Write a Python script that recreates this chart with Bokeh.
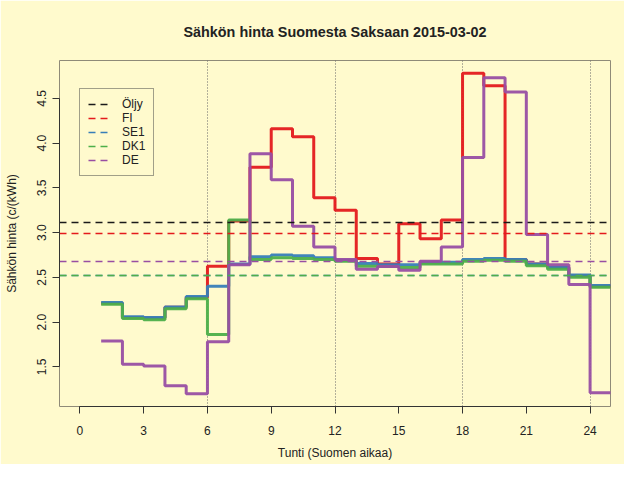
from bokeh.plotting import figure
from bokeh.models import Range1d, FixedTicker
from bokeh.embed import file_html
from bokeh.resources import INLINE

# ---- data ----
hours = list(range(1, 25))
fi  = [2.21, 2.05, 2.045, 2.165, 2.275, 2.625, 3.13, 3.73, 4.16, 4.07, 3.39, 3.25,
       2.71, 2.65, 3.10, 2.93, 3.14, 4.78, 4.64, 2.70, 2.65, 2.61, 2.515, 2.40]
se1 = [2.22, 2.06, 2.05, 2.17, 2.285, 2.40, 2.65, 2.73, 2.75, 2.74, 2.72, 2.69,
       2.655, 2.64, 2.64, 2.67, 2.67, 2.70, 2.71, 2.70, 2.65, 2.61, 2.525, 2.41]
dk1 = [2.20, 2.04, 2.025, 2.15, 2.26, 1.86, 3.14, 2.70, 2.72, 2.71, 2.70, 2.68,
       2.625, 2.62, 2.61, 2.65, 2.65, 2.68, 2.69, 2.68, 2.63, 2.59, 2.50, 2.39]
de  = [1.79, 1.53, 1.51, 1.29, 1.20, 1.78, 2.64, 3.88, 3.59, 3.07, 2.84, 2.70,
       2.59, 2.62, 2.58, 2.68, 2.84, 3.84, 4.73, 4.57, 2.98, 2.64, 2.42, 1.21]

legend_names = ["Öljy", "FI", "SE1", "DK1", "DE"]
mean_values = [3.11, 2.99, 2.52, 2.52, 2.68]

x_ticks = [0, 3, 6, 9, 12, 15, 18, 21, 24]
grid_hours = [6, 12, 18, 24]
y_ticks = [1.5, 2.0, 2.5, 3.0, 3.5, 4.0, 4.5]

title = "Sähkön hinta Suomesta Saksaan 2015-03-02"
x_title = "Tunti (Suomen aikaa)"
y_title = "Sähkön hinta (c/(kWh)"

# ---- styles ----
BG = "#FFFACD"
colors = ["#1a1a1a", "#E41A1C", "#377EB8", "#4DAF4A", "#984EA3"]
FONT = "Liberation Sans"
DARK = "#333333"

# R-like ranges: 4 % extension
xlo, xhi = 0, 24
xpad = 0.04 * (xhi - xlo)
allv = fi + se1 + dk1 + de
ylo, yhi = min(allv), max(allv)
ypad = 0.04 * (yhi - ylo)

p = figure(width=624, height=464, output_backend="svg", toolbar_location=None,
           x_range=Range1d(xlo - xpad, xhi + xpad),
           y_range=Range1d(ylo - ypad, yhi + ypad),
           min_border_left=59, min_border_right=14,
           min_border_top=59, min_border_bottom=58,
           background_fill_color=BG, border_fill_color=BG)

p.title.text = title
p.title.align = "center"
p.title.vertical_align = "bottom"
p.title.text_font = FONT
p.title.text_font_size = "14.4px"
p.title.text_font_style = "bold"
p.title.text_color = "#222222"
p.title.standoff = 42

p.outline_line_color = "#8f8a78"
p.outline_line_width = 1

# axes
for ax in (p.xaxis, p.yaxis):
    ax.axis_line_color = DARK
    ax.major_tick_line_color = DARK
    ax.minor_tick_line_color = None
    ax.major_tick_out = 7
    ax.major_tick_in = 0
    ax.major_label_text_font = FONT
    ax.major_label_text_font_size = "12px"
    ax.major_label_text_color = "#222222"
    ax.axis_label_text_font = FONT
    ax.axis_label_text_font_size = "12px"
    ax.axis_label_text_font_style = "normal"
    ax.axis_label_text_color = "#222222"

p.xaxis.ticker = FixedTicker(ticks=x_ticks)
p.xaxis.bounds = (x_ticks[0], x_ticks[-1])
p.xaxis.axis_label = x_title
p.xaxis.major_label_standoff = 12
p.xaxis.axis_label_standoff = 8

p.yaxis.ticker = FixedTicker(ticks=y_ticks)
p.yaxis.bounds = (y_ticks[0], y_ticks[-1])
p.yaxis.major_label_overrides = {t: f"{t:.1f}" for t in y_ticks}
p.yaxis.major_label_orientation = "vertical"
p.yaxis.axis_label = y_title
p.yaxis.major_label_standoff = 6
p.yaxis.axis_label_standoff = 16

p.xgrid.ticker = FixedTicker(ticks=grid_hours)
p.xgrid.grid_line_color = "#666666"
p.xgrid.grid_line_dash = "1 2"
p.xgrid.grid_line_width = 1
p.ygrid.grid_line_color = None

# step lines (value of hour h spans h .. h+1)
xs = hours + [hours[-1] + 1]
for series, col in zip([fi, se1, dk1, de], colors[1:]):
    p.step(x=xs, y=series + [series[-1]], mode="after",
           line_width=3, line_color=col, line_alpha=0.95)

# mean / reference lines
for name, val, col in zip(legend_names, mean_values, colors):
    p.hspan(y=[val], line_color=col, line_width=1.5, line_dash="7 5",
            legend_label=name)

lg = p.legend[0]
lg.location = (20, 230)
lg.label_text_font = FONT
lg.label_text_font_size = "12px"
lg.label_text_color = "#222222"
lg.label_height = 14
lg.glyph_height = 14
lg.glyph_width = 22
lg.label_standoff = 12
lg.spacing = 0
lg.padding = 8
lg.margin = 0
lg.border_line_color = "#444444"
lg.border_line_width = 1
lg.background_fill_color = BG
lg.background_fill_alpha = 1.0

open("out.html", "w").write(file_html(p, INLINE))
